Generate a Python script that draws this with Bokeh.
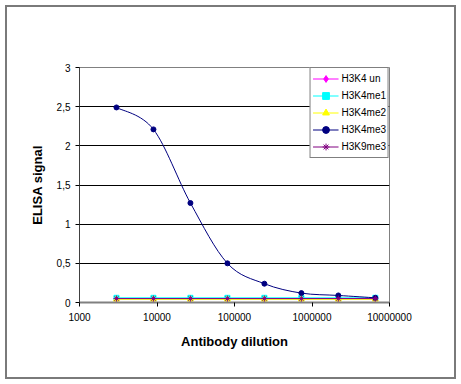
import numpy as np
from bokeh.plotting import figure
from bokeh.models import (FixedTicker, CustomJSTickFormatter, Legend, LegendItem, Range1d)
from bokeh.embed import file_html
from bokeh.resources import INLINE

# ---- data ----
dilution = [3000, 9000, 27000, 81000, 243000, 729000, 2187000, 6561000]
h3k4_un = [0.05, 0.05, 0.05, 0.05, 0.05, 0.05, 0.05, 0.05]
h3k4me1 = [0.06, 0.06, 0.06, 0.06, 0.06, 0.06, 0.06, 0.06]
h3k4me2 = [0.04, 0.04, 0.04, 0.04, 0.04, 0.04, 0.04, 0.04]
h3k4me3 = [2.49, 2.21, 1.27, 0.50, 0.24, 0.12, 0.09, 0.06]
h3k9me3 = [0.05, 0.05, 0.05, 0.05, 0.05, 0.05, 0.05, 0.05]
series_names = ["H3K4 un", "H3K4me1", "H3K4me2", "H3K4me3", "H3K9me3"]
x_ticks = [1000, 10000, 100000, 1000000, 10000000]
y_ticks = [0, 0.5, 1, 1.5, 2, 2.5, 3]

FONT = "Liberation Sans"

p = figure(width=461, height=384, x_axis_type="log",
           x_range=Range1d(1000, 10000000), y_range=Range1d(0, 3),
           output_backend="svg", toolbar_location=None,
           min_border_left=79, min_border_right=72,
           min_border_top=67, min_border_bottom=82)
p.styles = {"outline": "2px solid #7a7a7a", "outline-offset": "-7px"}
p.background_fill_color = "white"
p.border_fill_color = None
p.outline_line_color = "#808080"
p.outline_line_width = 1

# grid
p.xgrid.grid_line_color = None
p.ygrid.ticker = FixedTicker(ticks=y_ticks)
p.ygrid.grid_line_color = "#000000"
p.ygrid.grid_line_width = 1

# axes
p.yaxis.ticker = FixedTicker(ticks=y_ticks)
p.yaxis.formatter = CustomJSTickFormatter(code="return String(tick).replace('.', ',');")
p.xaxis.ticker = FixedTicker(ticks=x_ticks)
p.xaxis.formatter = CustomJSTickFormatter(code="return Math.round(tick).toString();")
for ax in (p.xaxis, p.yaxis):
    ax.major_tick_in = 0
    ax.major_tick_out = 4
    ax.minor_tick_line_color = None
    ax.major_tick_line_color = "#000000"
    ax.major_label_text_font = FONT
    ax.major_label_text_font_size = "10px"
    ax.major_label_text_color = "#000000"
    ax.axis_label_text_font = FONT
    ax.axis_label_text_font_size = "13px"
    ax.axis_label_text_font_style = "bold"
    ax.axis_label_text_color = "#000000"
p.xaxis.axis_line_color = "#808080"
p.xaxis.axis_line_width = 2
p.yaxis.axis_line_color = "#404040"
p.xaxis.axis_label = "Antibody dilution"
p.yaxis.axis_label = "ELISA signal"
p.xaxis.major_label_standoff = 6
p.xaxis.axis_label_standoff = 10
p.yaxis.major_label_standoff = 5
p.yaxis.axis_label_standoff = 9

items = []

# H3K4 un
r1 = p.line(dilution, h3k4_un, line_color="#FF00FF", line_width=1)
s1 = p.scatter(dilution, h3k4_un, marker="diamond", size=7,
               fill_color="#FF00FF", line_color="#FF00FF")
items.append(LegendItem(label=series_names[0], renderers=[r1, s1]))

# H3K4me1
r2 = p.line(dilution, h3k4me1, line_color="#00FFFF", line_width=1)
s2 = p.scatter(dilution, h3k4me1, marker="square", size=5,
               fill_color="#00FFFF", line_color="#00FFFF")
items.append(LegendItem(label=series_names[1], renderers=[r2, s2]))

# H3K4me2
r3 = p.line(dilution, h3k4me2, line_color="#FFFF00", line_width=1)
s3 = p.scatter(dilution, h3k4me2, marker="triangle", size=6,
               fill_color="#FFFF00", line_color="#FFFF00")
items.append(LegendItem(label=series_names[2], renderers=[r3, s3]))

# H3K4me3 - smoothed curve (Catmull-Rom -> Bezier in log-x space)
lx = np.log10(np.array(dilution, dtype=float))
yy = np.array(h3k4me3, dtype=float)
ex = np.concatenate([[lx[0]], lx, [lx[-1]]])
ey = np.concatenate([[yy[0]], yy, [yy[-1]]])
n = len(lx)
x0 = lx[:-1]; y0 = yy[:-1]; x1 = lx[1:]; y1 = yy[1:]
cx0 = ex[1:n] + (ex[2:n + 1] - ex[0:n - 1]) / 6.0
cy0 = ey[1:n] + (ey[2:n + 1] - ey[0:n - 1]) / 6.0
cx1 = ex[2:n + 1] - (ex[3:n + 2] - ex[1:n]) / 6.0
cy1 = ey[2:n + 1] - (ey[3:n + 2] - ey[1:n]) / 6.0
r4 = p.bezier(x0=10 ** x0, y0=y0, x1=10 ** x1, y1=y1,
              cx0=10 ** cx0, cy0=cy0, cx1=10 ** cx1, cy1=cy1,
              line_color="#000080", line_width=1)
s4 = p.scatter(dilution, h3k4me3, marker="circle", size=5,
               fill_color="#000080", line_color="#000080")
items.append(LegendItem(label=series_names[3], renderers=[r4, s4]))

# H3K9me3
r5 = p.line(dilution, h3k9me3, line_color="#800080", line_width=1)
s5 = p.scatter(dilution, h3k9me3, marker="asterisk", size=6,
               line_color="#800080", line_width=1)
items.append(LegendItem(label=series_names[4], renderers=[r5, s5]))

legend = Legend(items=items, location="top_right")
legend.margin = 0
legend.padding = 2
legend.spacing = 0
legend.label_height = 17
legend.glyph_height = 17
legend.glyph_width = 26
legend.label_standoff = 3
legend.label_text_font = FONT
legend.label_text_font_size = "10px"
legend.label_text_color = "#000000"
legend.border_line_color = "#000000"
legend.border_line_width = 1
legend.background_fill_color = "white"
legend.background_fill_alpha = 1
p.add_layout(legend, "center")

open("out.html", "w").write(file_html(p, INLINE))
